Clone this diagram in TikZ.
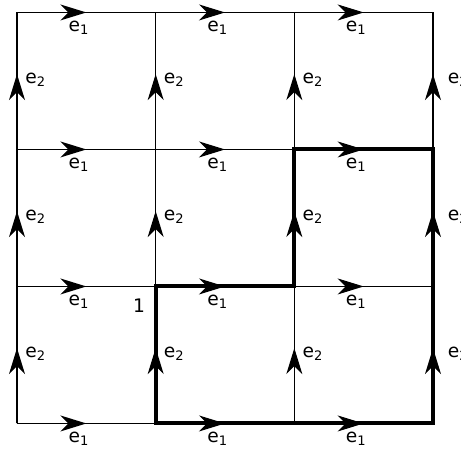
\documentclass[tikz,border=0pt]{standalone}
\usepackage{fontspec}
\setmainfont{DejaVu Sans}
\usetikzlibrary{arrows.meta}

\tikzset{
  gridline/.style={line width=0.9pt},
  looppath/.style={line width=3pt,line join=miter},
  arr/.style={-{Stealth[length=19.5pt,width=12pt,inset=6pt]},line width=0.9pt},
  lab/.style={inner sep=0pt,font=\fontsize{14}{16}\selectfont},
}

\begin{document}
\begin{tikzpicture}[x=104pt,y=102.75pt]
  \useasboundingbox (-12.75pt,-21.4pt) rectangle (333pt,317.6pt);
  % vertices
  \foreach \i in {0,...,3}
    \foreach \j in {0,...,3}
      \coordinate (v\i\j) at (\i,\j);
  % grid
  \foreach \j in {0,...,3}
    \draw[gridline] (v0\j) -- (v3\j);
  \foreach \i in {0,...,3}
    \draw[gridline] (v\i0) -- (v\i3);
  % thick loop
  \draw[looppath] (v10) -- (v30) -- (v32) -- (v22) -- (v21) -- (v11) -- cycle;
  % e1 arrows
  \foreach \i in {0,1,2}
    \foreach \j in {0,...,3} {
      \coordinate (h\i\j) at (\i+0.5,\j);
      \draw[arr] (v\i\j) -- (h\i\j);
      \node[lab,anchor=base west] (a\i\j) at ([xshift=-13.5pt,yshift=-14.3pt]h\i\j) {e\textsubscript{1}};
    }
  % e2 arrows
  \foreach \i [evaluate=\i as \dx using {6+5*(\i==3)}] in {0,...,3}
    \foreach \j in {0,1,2} {
      \coordinate (u\i\j) at (\i,\j+0.55);
      \draw[arr] (v\i\j) -- (u\i\j);
      \node[lab,anchor=base west] (b\i\j) at ([xshift=\dx pt,yshift=-6.75pt]u\i\j) {e\textsubscript{2}};
    }
  \node[lab,anchor=base] (one) at ([xshift=-12.4pt,yshift=-19.5pt]v11) {1};
\end{tikzpicture}
\end{document}
